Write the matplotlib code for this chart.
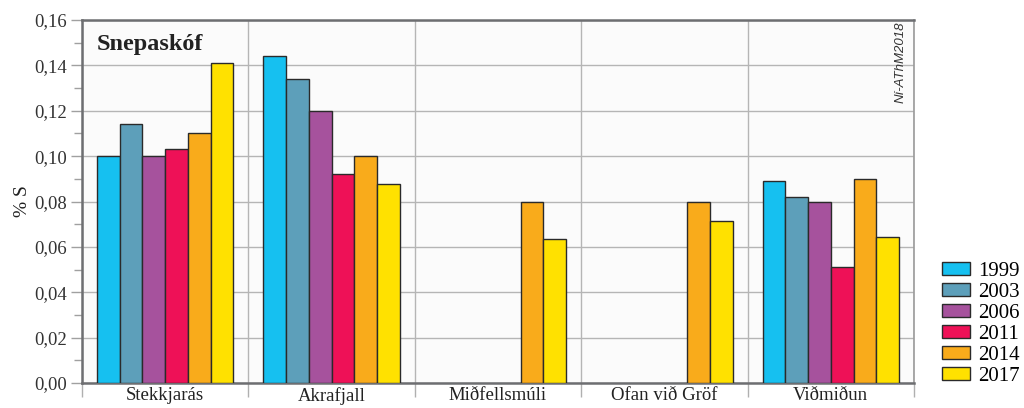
import numpy as np
import matplotlib
matplotlib.use('Agg')
import matplotlib.pyplot as plt
from matplotlib.ticker import MultipleLocator, FixedLocator, FuncFormatter

sites = ['Stekkjarás', 'Akrafjall', 'Miðfellsmúli', 'Ofan við Gröf', 'Viðmiðun']
years = ['1999', '2003', '2006', '2011', '2014', '2017']
colors = ['#16c0f0', '#5d9fba', '#a6529d', '#ee1157', '#f9ab1b', '#ffe100']

v1999 = [0.100, 0.144, np.nan, np.nan, 0.089]
v2003 = [0.114, 0.134, np.nan, np.nan, 0.082]
v2006 = [0.100, 0.120, np.nan, np.nan, 0.080]
v2011 = [0.103, 0.092, np.nan, np.nan, 0.051]
v2014 = [0.110, 0.100, 0.080, 0.080, 0.090]
v2017 = [0.141, 0.0875, 0.0635, 0.0715, 0.0645]
series = [v1999, v2003, v2006, v2011, v2014, v2017]

plt.rcParams['font.family'] = ['Liberation Serif', 'DejaVu Serif']

fig = plt.figure(figsize=(10.24, 4.08), dpi=100)
ax = fig.add_axes([82/1024, 1 - 383/408, (914 - 82)/1024, (383 - 20)/408])
ax.set_facecolor('#fbfbfb')

x = np.arange(len(sites))
bw = 0.82 / len(years)
for i, (vals, c, yr) in enumerate(zip(series, colors, years)):
    off = (i - (len(years) - 1) / 2) * bw
    ax.bar(x + off, vals, width=bw, color=c, edgecolor='#2a2a2a', linewidth=1.0,
           label=yr, zorder=3)

ax.set_xlim(-0.5, len(sites) - 0.5)
ax.set_ylim(0, 0.16)

grey = '#6d6e71'
ax.yaxis.set_major_locator(MultipleLocator(0.02))
ax.yaxis.set_minor_locator(MultipleLocator(0.01))
ax.yaxis.set_major_formatter(FuncFormatter(lambda v, p: f'{v:.2f}'.replace('.', ',')))
ax.tick_params(axis='y', which='major', length=8, width=1, color='#a0a0a0', labelsize=13.5,
               labelcolor='#333333', pad=3)
ax.tick_params(axis='y', which='minor', length=6, width=1, color='#a0a0a0')

ax.xaxis.set_major_locator(FixedLocator(np.arange(-0.5, len(sites), 1.0)))
ax.xaxis.set_minor_locator(FixedLocator(x))
ax.set_xticklabels([], minor=False)
ax.set_xticklabels(sites, minor=True)
ax.tick_params(axis='x', which='major', length=10, width=1, color='#b0b0b0')
ax.tick_params(axis='x', which='minor', length=0, labelsize=13.5, pad=3, labelcolor='#222222')

ax.grid(True, which='major', color='#b5b5b5', linewidth=1.0, zorder=0)
ax.set_axisbelow(True)

for s in ['left', 'bottom', 'top']:
    ax.spines[s].set_color(grey)
    ax.spines[s].set_linewidth(1.8)
ax.spines['right'].set_color('#9a9a9a')
ax.spines['right'].set_linewidth(1.2)

ax.set_ylabel('% S', fontsize=14, color='#222222', labelpad=2)

ax.text(0.018, 0.917, 'Snepaskóf', transform=ax.transAxes, fontsize=17.5,
        fontweight='bold', color='#222222', va='baseline', ha='left')
ax.text(0.991, 0.995, 'Ní-AThM2018', transform=ax.transAxes, fontsize=9.5,
        family='Liberation Sans', style='italic', rotation=90, va='top', ha='right',
        color='#333333')

fig.legend(loc='lower left', bbox_to_anchor=(942/1024, 22/408), frameon=False,
           fontsize=15, handlelength=1.35, handleheight=0.6, handletextpad=0.4,
           labelspacing=0.1, borderaxespad=0, borderpad=0)

fig.savefig('out.png', dpi=100)
